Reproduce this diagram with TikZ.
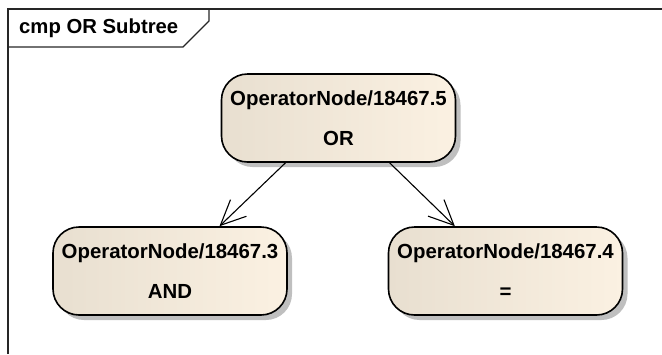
\documentclass[tikz,border=0pt]{standalone}
\usepackage{fontspec}
\setmainfont{Liberation Sans}
\usetikzlibrary{arrows.meta,calc,shadows}
\begin{document}
\begin{tikzpicture}[x=1pt,y=-1pt,
  opnode/.style={draw=black, line width=1.6pt, rounded corners=26pt,
    left color=opleft, right color=opright,
    minimum width=234pt, minimum height=88pt, inner sep=0pt,
    align=center, font=\fontsize{20.4}{40}\selectfont\bfseries,
    drop shadow={shadow xshift=5pt, shadow yshift=-5pt, fill=black!25, opacity=1}},
  conn/.style={line width=1.1pt, -{Straight Barb[length=25pt,width=23pt,line width=1.1pt]}},
  frame/.style={line width=1.2pt, draw=black!85}]
\definecolor{opleft}{RGB}{232,223,208}
\definecolor{opright}{RGB}{251,241,226}
\useasboundingbox (0,0) rectangle (662,354);
% frame
\draw[frame] (8,354) -- (8,9) -- (662,9);
\draw[frame] (8,47) -- (183,47) -- (209,21) -- (209,9);
\node[anchor=west, font=\fontsize{20.3}{24}\selectfont\bfseries, inner sep=0pt] (title) at (19,28) {cmp OR Subtree};
% nodes
\node[opnode] (top) at (338.5,118) {OperatorNode/18467.5\\OR};
\node[opnode] (left) at (170,271) {OperatorNode/18467.3\\AND};
\node[opnode] (right) at (505.5,271) {OperatorNode/18467.4\\=};
% connectors
\draw[conn] ($(top.south west)!0.275!(top.south east)$) -- ($(left.north west)!0.71!(left.north east)$);
\draw[conn] ($(top.south west)!0.717!(top.south east)$) -- ($(right.north west)!0.285!(right.north east)$);
\end{tikzpicture}
\end{document}
